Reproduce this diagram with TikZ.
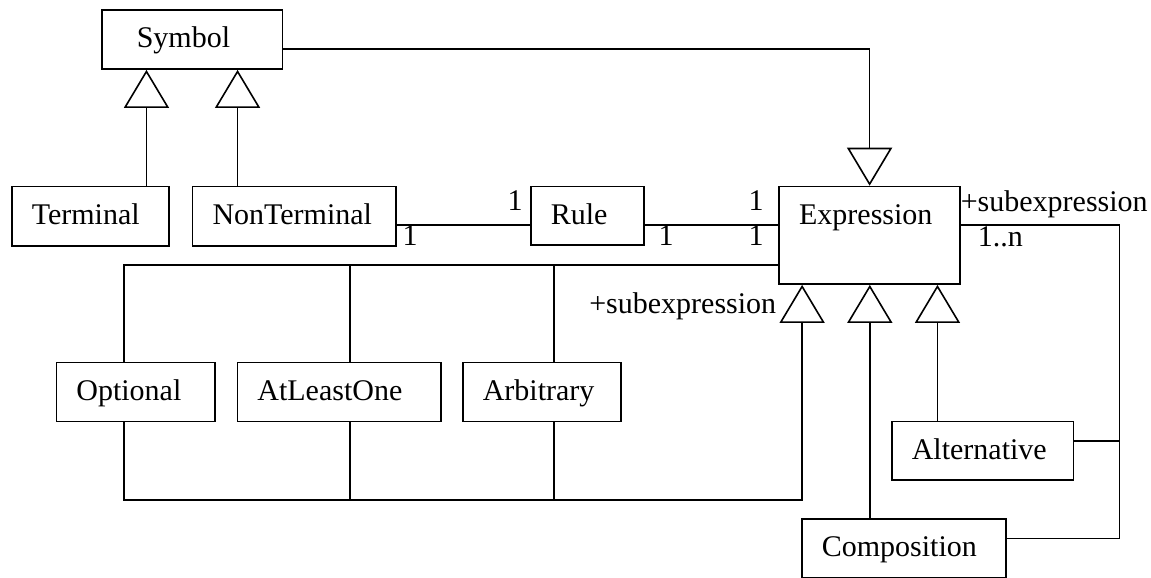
\documentclass[tikz,border=0pt]{standalone}
\usepackage{fontspec}
\setmainfont{Liberation Serif}
\usetikzlibrary{arrows.meta,calc}
\begin{document}
\begin{tikzpicture}[x=1pt,y=-1pt,line width=1.6pt,
  font=\fontsize{30}{36}\selectfont,
  cls/.style={draw, anchor=north west, inner ysep=0pt, inner xsep=20pt, text height=37.7pt, align=left},
  gen/.style={-{Triangle[open,length=38pt,width=45pt]}},
  lbl/.style={inner sep=0pt, anchor=base}]
\useasboundingbox (0,0) rectangle (1151,578);
% classes
\node[cls, inner xsep=35pt, text width=110.7pt, text depth=21.3pt] (Symbol) at (101,9.3) {Symbol};
\node[cls, text width=117.3pt, text depth=21.6pt] (Terminal) at (11,185.7) {Terminal};
\node[cls, text width=163.3pt, text depth=21.6pt] (NonTerminal) at (191.7,185.7) {NonTerminal};
\node[cls, text width=73.3pt, text depth=20.9pt] (Rule) at (530,185.7) {Rule};
\node[cls, text width=141pt, text depth=59.9pt] (Expression) at (778.3,185.7) {Expression};
\node[cls, text width=118.8pt, text depth=21.3pt] (Optional) at (55.6,361.7) {Optional};
\node[cls, text width=163.4pt, text depth=21.3pt] (AtLeastOne) at (236.6,361.7) {AtLeastOne};
\node[cls, text width=118.4pt, text depth=21.3pt] (Arbitrary) at (462,361.7) {Arbitrary};
\node[cls, text width=141.7pt, text depth=20.9pt] (Alternative) at (891,420.7) {Alternative};
\node[cls, text width=164pt, text depth=20.7pt] (Composition) at (801,518.3) {Composition};
% helper coordinates
\path ([xshift=56pt]Terminal.north) coordinate (t1)
      ([xshift=-56.6pt]NonTerminal.north) coordinate (n1)
      ([yshift=-9.5pt]Symbol.east) coordinate (s1)
      ([yshift=-9pt]NonTerminal.east) coordinate (r1)
      ([yshift=-29.5pt]Expression.west) coordinate (b1)
      ([xshift=-11.7pt]Optional.north) coordinate (o1)
      ([xshift=11.1pt]AtLeastOne.north) coordinate (a1)
      ([xshift=12pt]Arbitrary.north) coordinate (ar1)
      ([xshift=-11.7pt]Optional.south) coordinate (o2)
      ([xshift=11.1pt]AtLeastOne.south) coordinate (a2)
      ([xshift=12pt]Arbitrary.south) coordinate (ar2)
      ([yshift=-77.6pt]o2) coordinate (bot)
      ([xshift=-67.5pt]Expression.south) coordinate (e1)
      ([xshift=-34pt]Composition.north) coordinate (c1)
      ([xshift=-45.2pt]Alternative.north) coordinate (al1)
      ([yshift=10pt]Alternative.east) coordinate (al2)
      ([yshift=9.8pt]Composition.east) coordinate (c2);
% generalizations to Symbol
\draw[gen] (t1) -- (t1 |- Symbol.south);
\draw[gen] (n1) -- (n1 |- Symbol.south);
\draw[gen] (s1) -| (Expression.north);
% associations
\draw (r1) -- (r1 -| Rule.west);
\draw (r1 -| Rule.east) -- (r1 -| Expression.west);
% top bus
\draw (b1) -| (o1);
\draw (a1) -- (a1 |- b1);
\draw (ar1) -- (ar1 |- b1);
% bottom bus
\draw[gen] (o2) -- (bot) -| (e1);
\draw (a2) -- (a2 |- bot);
\draw (ar2) -- (ar2 |- bot);
% other generalizations
\draw[gen] (c1) -- (c1 |- Expression.south);
\draw[gen] (al1) -- (al1 |- Expression.south);
% subexpression aggregation
\draw (r1 -| Expression.east) -- ++(158.4,0) coordinate (rc) |- (c2);
\draw (al2) -- (al2 -| rc);
% labels
\node[lbl] (m1) at (410,245) {1};
\node[lbl] (m2) at (515,210) {1};
\node[lbl] (m3) at (666,245) {1};
\node[lbl] (m4) at (756,210) {1};
\node[lbl] (m5) at (756,245) {1};
\node[lbl, anchor=base west] (sub1) at (960,211) {+subexpression};
\node[lbl, anchor=base west] (mn) at (977,246) {1..n};
\node[lbl, anchor=base east] (sub2) at (777,313.3) {+subexpression};
\end{tikzpicture}
\end{document}
